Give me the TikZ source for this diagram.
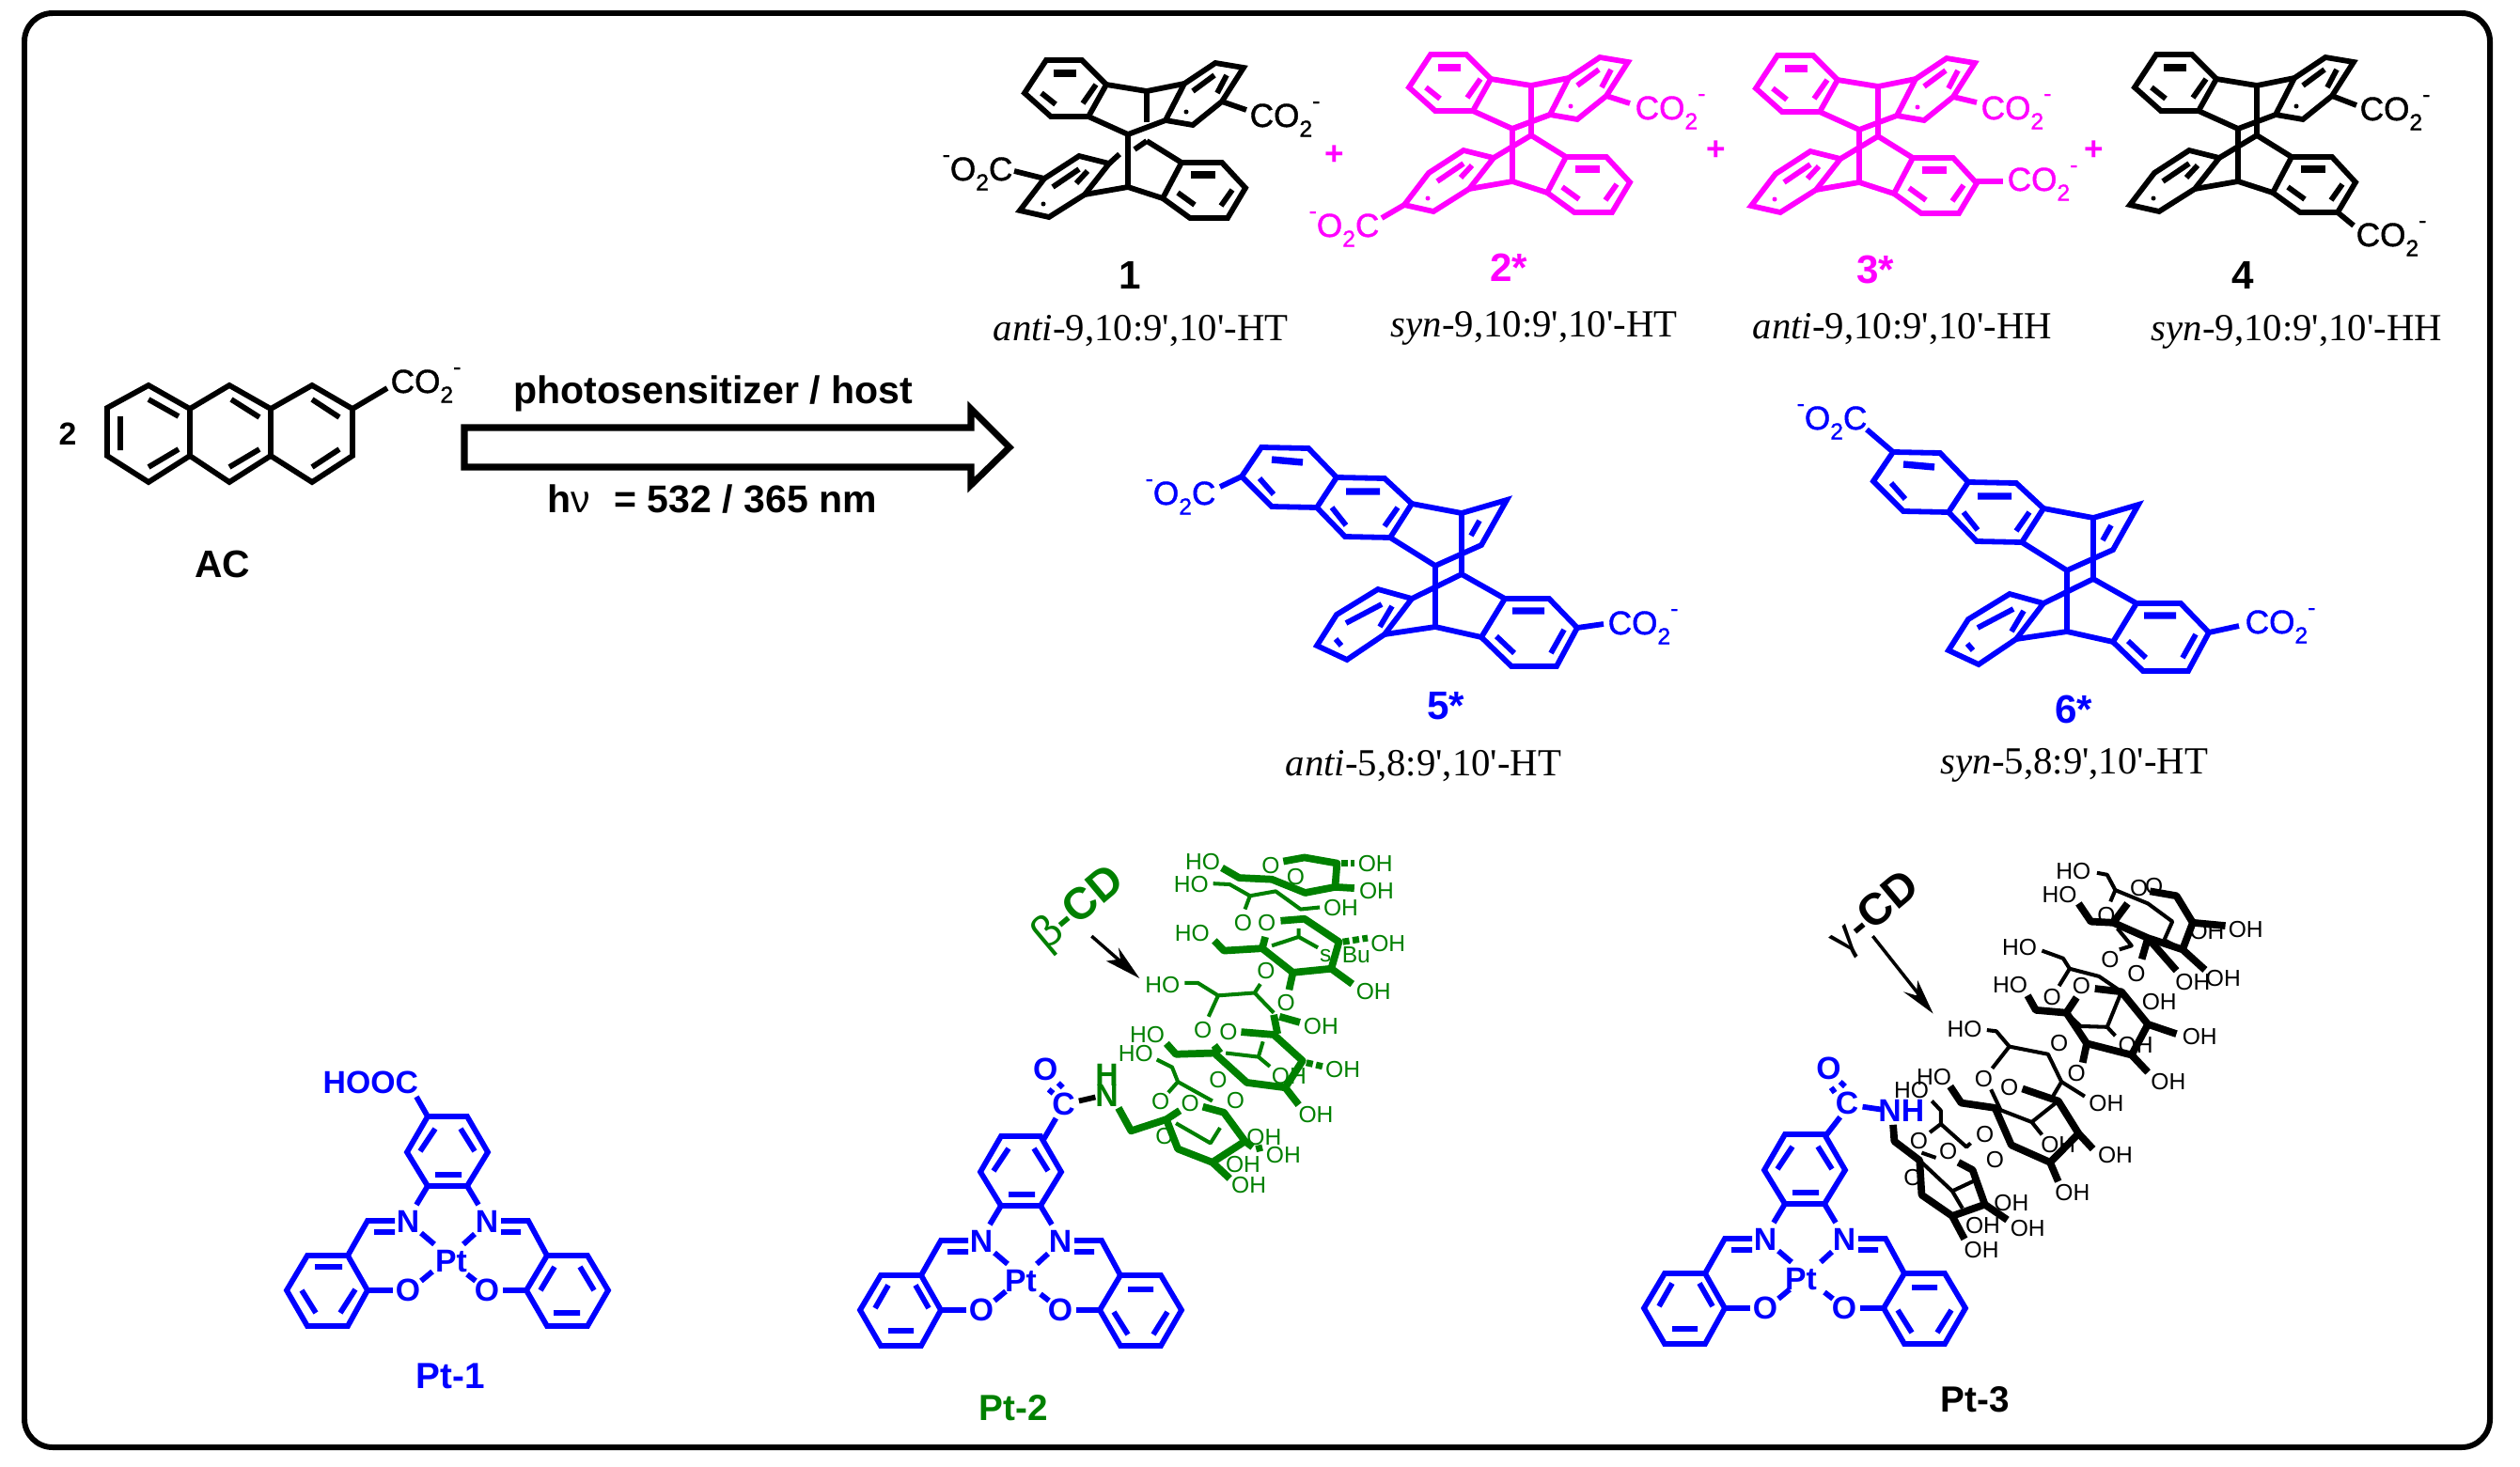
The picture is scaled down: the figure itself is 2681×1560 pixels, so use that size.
\documentclass[tikz,border=0pt]{standalone}
\usepackage{fontspec}
\newfontfamily\arl{Liberation Sans}
\newfontfamily\arm[FakeBold=1.2]{Liberation Sans}
\newfontfamily\tim{Liberation Serif}
\definecolor{mag}{RGB}{255,0,255}
\definecolor{blu}{RGB}{0,0,255}
\definecolor{grn}{RGB}{0,128,0}
\newcommand\mysub[1]{\raisebox{-0.3em}{\fontsize{7}{8}\selectfont #1}}
\newcommand\mysup[1]{\raisebox{0.55em}{\fontsize{7}{8}\selectfont #1}}
\newcommand\cotwo{CO\mysub{2}\mysup{-}}
\newcommand\otwoc{\mysup{-}O\mysub{2}C}
\tikzset{
 bond/.style={line width=1.65pt,line join=miter},
 hbond/.style={line width=2.1pt},
 thinb/.style={line width=1.15pt,line join=round},
 thickb/.style={line width=2.2pt,line join=round},
 hashb/.style={line width=2pt,dash pattern=on 2pt off 1pt},
 chem/.style={inner sep=0pt,font=\arm\fontsize{10}{12}\selectfont,anchor=base west},
 atom/.style={inner sep=0pt,font=\arl\bfseries\fontsize{9.6}{11}\selectfont},
 cdtxt/.style={inner sep=0pt,font=\arl\fontsize{7}{8}\selectfont},
 num/.style={inner sep=0pt,font=\arl\bfseries\fontsize{12}{14}\selectfont},
 big/.style={inner sep=0pt,font=\arl\bfseries\fontsize{11}{13}\selectfont},
 iso/.style={inner sep=0pt,font=\tim\fontsize{11.6}{14}\selectfont,anchor=base west},
 rxn/.style={inner sep=0pt,font=\arl\bfseries\fontsize{11.67}{14}\selectfont,anchor=base west},
 pls/.style={inner sep=0pt,font=\arl\bfseries\fontsize{10}{12}\selectfont,text=mag},
 cdname/.style={inner sep=0pt,font=\arl\bfseries\fontsize{13.5}{15}\selectfont,rotate=40},
}
\newcommand\dimerrings{
 \draw[bond] (-87,-79)--(-49,-79)--(-23,-53)--(-42,-19)--(-82,-19)--(-110,-44)--cycle;
 \draw[bond] (-42,-19)--(0,0)--(40,-15)--(69,-10)--(100,-35)--(123,-71)--(93,-76)--(60,-54)--(40,-15);
 \draw[bond] (-23,-53)--(20,-46)--(60,-54);
 \draw[bond] (57,30)--(100,30)--(125,57)--(106,89)--(66,89)--(37,68)--cycle;
 \draw[bond] (-52,23)--(-20,31)--(-46,64)--(-84,88)--(-115,81)--(-89,47)--cycle;
 \draw[bond] (0,0)--(0,56);
 \draw[bond] (-46,64)--(0,56)--(37,68);
 \draw[bond] (20,7)--(57,30);
 \draw[hbond] (-79,-65)--(-55,-65) (67,43)--(93,43);
 \draw[bond] (-92,-44)--(-77,-32) (-48,-33)--(-34,-53);
 \draw[bond] (69,-46)--(92,-63) (95,-44)--(105,-63);
 \draw[bond] (53,62)--(71,75) (99,76)--(111,59);
 \draw[bond] (-80,56)--(-52,37) (-55,52)--(-43,39);
 \fill (62,-24) circle (2.5) (-90,74) circle (2.5);
}
\newcommand\vinylcore{
 \draw[bond] (-185,-126)--(-135,-125)--(-105,-94)--(-126,-62)--(-174,-63)--(-206,-95)--cycle;
 \draw[bond] (-105,-94)--(-54,-93)--(-25,-66)--(-48,-30)--(-96,-31)--(-126,-62);
 \draw[bond] (-25,-66)--(28,-56)--(76,-70)--(49,-22)--(0,0)--(-48,-30);
 \draw[bond] (28,-56)--(28,9);
 \draw[bond] (0,0)--(0,65);
 \draw[bond] (28,9)--(74,35);
 \draw[bond] (28,9)--(-25,35);
 \draw[bond] (74,35)--(121,35)--(151,66)--(129,107)--(81,107)--(49,76)--cycle;
 \draw[bond] (-61,25)--(-25,35)--(-54,73)--(-94,100)--(-126,85)--(-105,52)--cycle;
 \draw[bond] (-54,73)--(0,65)--(49,76);
 \draw[hbond] (-174,-113)--(-141,-110) (-95,-79)--(-59,-79) (82,48)--(116,48);
 \draw[bond] (-187,-93)--(-172,-76) (-110,-62)--(-95,-43) (-40,-62)--(-54,-42) (47,-48)--(38,-32);
 \draw[bond] (65,75)--(84,93) (137,68)--(123,93) (-95,61)--(-57,41) (-59,65)--(-46,43) (-106,78)--(-100,85);
}
\newcommand\ptcore{
 \draw[bond] (-25,-154)--(17,-154)--(39,-116)--(17,-80)--(-25,-80)--(-47,-116)--cycle;
 \draw[bond] (-17,-92)--(11,-92) (-33,-117)--(-17,-141) (10,-141)--(25,-117);
 \draw[bond] (-25,-80)--(-37,-60) (17,-80)--(29,-60);
 \draw[bond] (-60,-43)--(-89,-43)--(-110,-6) (-82,-31)--(-60,-31);
 \draw[bond] (53,-43)--(82,-43)--(102,-6) (53,-31)--(74,-31);
 \draw[bond] (-110,-6)--(-153,-6)--(-175,31)--(-153,69)--(-110,69)--(-89,31)--cycle;
 \draw[bond] (102,-6)--(145,-6)--(167,31)--(145,69)--(102,69)--(80,31)--cycle;
 \draw[bond] (-89,31)--(-62,31) (55,31)--(80,31);
 \draw[bond] (-32,-30)--(-18,-18) (25,-29)--(13,-18) (-32,21)--(-20,11) (17,14)--(26,21);
}
\newcommand\ptatoms[1]{
 \node[atom] (#1n1) at (-46,-42) {N};
 \node[atom] (#1n2) at (38,-42) {N};
 \node[atom] (#1o1) at (-46,31) {O};
 \node[atom] (#1o2) at (38,31) {O};
}
\begin{document}
\begin{tikzpicture}[x=0.01cm,y=-0.01cm]
\useasboundingbox (0,0) rectangle (2681,1560);
\draw[line width=1.7pt,rounded corners=0.3cm] (26,14) rectangle (2649,1540);

% ---- dimer 1
\begin{scope}[shift={(1200,143)}]
 \dimerrings
 \draw[bond] (20,-46)--(20,-13);
 \draw[bond] (20,7)--(7,16) (-9,21)--(-20,31);
\end{scope}
\coordinate (c1a) at (1300,108); \coordinate (c1b) at (1326,117);
\draw[bond] (c1a)--(c1b);
\coordinate (c1c) at (1111,190); \coordinate (c1d) at (1079,182);
\draw[bond] (c1c)--(c1d);
\node[chem] (m1r) at (1329,135) {\cotwo};
\node[chem] (m1l) at (1002,192) {\otwoc};
\node[num] (m1) at (1202,293) {1};
\node[iso] (n1) at (1056,362) {\itshape anti\upshape-9,10:9',10'-HT};

% ---- dimer 2
\begin{scope}[shift={(1609,137)},color=mag]
 \dimerrings
 \draw[bond] (20,-46)--(20,7)  (0,0)--(40,-15) (20,7)--(-20,31);
\end{scope}
\coordinate (c2a) at (1709,102); \coordinate (c2b) at (1734,110);
\draw[bond,mag] (c2a)--(c2b);
\coordinate (c2c) at (1494,218); \coordinate (c2d) at (1470,232);
\draw[bond,mag] (c2c)--(c2d);
\node[chem,text=mag] (m2r) at (1739,127) {\cotwo};
\node[chem,text=mag] (m2l) at (1392,252) {\otwoc};
\node[num,text=mag] (m2) at (1605,285) {2*};
\node[iso] (n2) at (1479,358) {\itshape syn\upshape-9,10:9',10'-HT};

% ---- dimer 3
\begin{scope}[shift={(1978,138)},color=mag]
 \dimerrings
 \draw[bond] (20,-46)--(20,7) (20,7)--(-20,31);
\end{scope}
\coordinate (c3a) at (2078,103); \coordinate (c3b) at (2103,109);
\draw[bond,mag] (c3a)--(c3b);
\coordinate (c3c) at (2103,193); \coordinate (c3d) at (2131,193);
\draw[bond,mag] (c3c)--(c3d);
\node[chem,text=mag] (m3r) at (2107,127) {\cotwo};
\node[chem,text=mag] (m3l) at (2135,203) {\cotwo};
\node[num,text=mag] (m3) at (1995,287) {3*};
\node[iso] (n3) at (1864,360) {\itshape anti\upshape-9,10:9',10'-HH};

% ---- dimer 4
\begin{scope}[shift={(2381,137)}]
 \dimerrings
 \draw[bond] (20,-46)--(20,7) (20,7)--(-20,31);
\end{scope}
\coordinate (c4a) at (2481,102); \coordinate (c4b) at (2507,112);
\draw[bond] (c4a)--(c4b);
\coordinate (c4c) at (2487,226); \coordinate (c4d) at (2504,240);
\draw[bond] (c4c)--(c4d);
\node[chem] (m4r) at (2510,128) {\cotwo};
\node[chem] (m4l) at (2506,262) {\cotwo};
\node[num] (m4) at (2386,293) {4};
\node[iso] (n4) at (2288,362) {\itshape syn\upshape-9,10:9',10'-HH};

% ---- plus signs
\node[pls] (p1) at (1420,165) {+};
\node[pls] (p2) at (1826,160) {+};
\node[pls] (p3) at (2228,160) {+};

% ---- AC
\draw[bond] (114,434)--(158,410)--(202,435)--(244,410)--(288,435)--(332,410)--(375,435)--(375,485)--(332,513)--(288,485)--(244,513)--(202,485)--(158,513)--(114,485)--cycle;
\draw[bond] (202,435)--(202,485) (288,435)--(288,485);
\draw[bond] (128,443)--(128,479) (158,425)--(190,443) (158,497)--(190,478) (246,425)--(276,444) (244,497)--(276,478) (332,425)--(361,444) (332,497)--(361,478);
\coordinate (aca) at (375,435); \coordinate (acb) at (412,413);
\draw[bond] (aca)--(acb);
\node[chem] (acco) at (415,418) {\cotwo};
\node[atom,font=\arl\bfseries\fontsize{9.6}{11}\selectfont] (two) at (72,462) {2};
\node[atom,font=\arl\bfseries\fontsize{11.6}{14}\selectfont] (ac) at (237,600) {AC};

% ---- reaction arrow
\draw[line width=2pt,miter limit=10,fill=white] (494,455)--(1033,455)--(1033,435)--(1074,476)--(1033,516)--(1033,497)--(494,497)--cycle;
\node[rxn] (rt) at (546,429) {photosensitizer / host};
\node[rxn] (rb) at (582,545) {h{\mdseries ν}\,\, = 532 / 365 nm};

% ---- dimer 5
\begin{scope}[shift={(1527,602)},color=blu]
 \vinylcore
\end{scope}
\coordinate (c5a) at (1321,507); \coordinate (c5b) at (1298,518);
\draw[bond,blu] (c5a)--(c5b);
\coordinate (c5c) at (1678,668); \coordinate (c5d) at (1706,664);
\draw[bond,blu] (c5c)--(c5d);
\node[chem,text=blu] (m5l) at (1218,537) {\otwoc};
\node[chem,text=blu] (m5r) at (1710,675) {\cotwo};
\node[num,text=blu] (m5) at (1538,751) {5*};
\node[iso] (n5) at (1367,825) {\itshape anti\upshape-5,8:9',10'-HT};

% ---- dimer 6
\begin{scope}[shift={(2199,607)},color=blu]
 \vinylcore
\end{scope}
\coordinate (c6a) at (2014,481); \coordinate (c6b) at (1986,457);
\draw[bond,blu] (c6a)--(c6b);
\coordinate (c6c) at (2350,673); \coordinate (c6d) at (2382,666);
\draw[bond,blu] (c6c)--(c6d);
\node[chem,text=blu] (m6l) at (1911,457) {\otwoc};
\node[chem,text=blu] (m6r) at (2388,674) {\cotwo};
\node[num,text=blu] (m6) at (2206,755) {6*};
\node[iso] (n6) at (2064,823) {\itshape syn\upshape-5,8:9',10'-HT};

% ---- Pt-1
\begin{scope}[shift={(480,1342)},color=blu]
 \ptcore
 \ptatoms{a}
 \draw[bond] (-145,6)--(-116,6) (-159,31)--(-144,55) (-118,55)--(-102,30);
 \draw[bond] (95,31)--(110,6) (137,6)--(152,31) (109,55)--(137,55);
 \draw[bond] (-25,-154)--(-37,-175);
\end{scope}
\node[atom,text=blu,anchor=base west] (hooc) at (343,1163) {HOOC};
\node[atom,text=blu] (pta) at (480,1342) {Pt};
\node[big,text=blu] (l1) at (479,1464) {Pt-1};

% ---- Pt-2
\begin{scope}[shift={(1090,1363)},color=blu]
 \ptcore
 \ptatoms{b}
 \draw[bond] (-159,29)--(-145,4.5) (-116,4.5)--(-102,29) (-145,53)--(-118,53);
 \draw[bond] (110,9)--(137,9) (95,33)--(110,57) (137,57)--(152,33);
\end{scope}
\node[atom,text=blu] (ptb) at (1086,1363) {Pt};
\node[big,text=grn] (l2) at (1078,1498) {Pt-2};
\begin{scope}[shift={(890,890)},scale=0.408]
 \draw[bond,blu] (540,790)--(572,735) (553,660)--(565,670) (578,643)--(590,655);
 \draw[bond] (632,690)--(675,680);
 \node[atom,text=blu] (bc) at (592,697) {C};
 \node[atom,text=blu] (bo) at (545,608) {O};
 \node[atom,text=grn] (bn) at (705,675) {N};
 \node[atom,text=grn] (bh) at (705,622) {H};
 \begin{scope}[color=grn]
 % ring 1
 \draw[thickb] (1005,82)--(1050,108)--(1135,112)--(1222,147)--(1300,132)--(1350,135);
 \draw[thickb] (1300,132)--(1305,70)--(1220,55)--(1165,65);
 \draw[hashb] (1315,70)--(1350,70);
 \draw[thinb] (982,123)--(1025,125)--(1078,155)--(1145,143)--(1210,190)--(1260,185);
 \draw[thinb] (1078,155)--(1065,190);
 % ring 2
 \draw[thickb] (985,272)--(1010,298)--(1110,292)--(1190,355)--(1290,345)--(1345,385);
 \draw[thickb] (1190,355)--(1180,400) (1290,345)--(1310,275)--(1220,215)--(1158,220) (1110,292)--(1118,262);
 \draw[thinb] (1135,285)--(1205,262)--(1255,290) (1205,262)--(1205,240);
 \draw[hashb] (1320,275)--(1385,265);
 % ring 3
 \draw[thinb] (908,382)--(942,382)--(995,415)--(1090,408)--(1140,460) (995,415)--(970,470) (1090,408)--(1105,385);
 \draw[thickb] (1140,465)--(1150,515) (1155,470)--(1208,485);
 \draw[thickb] (1055,510)--(1140,517)--(1215,585)--(1170,655)--(1205,700);
 \draw[thickb] (1170,655)--(1070,642)--(985,565)--(885,568)--(860,540) (985,545)--(1000,565);
 \draw[hashb] (1225,590)--(1268,600);
 \draw[thinb] (1015,565)--(1100,575)--(1130,600) (1100,575)--(1112,535);
 % ring 4
 \draw[thinb] (835,582)--(875,602)--(890,640)--(980,690) (890,640)--(865,668);
 \draw[thickb] (735,708)--(768,768)--(860,738)--(895,715);
 \draw[thickb] (860,738)--(890,815)--(980,850)--(1065,795)--(1010,720)--(955,705);
 \draw[thickb] (980,850)--(1025,892) (1065,795)--(1085,810);
 \draw[thinb] (885,748)--(975,800)--(1000,760);
 \draw[hashb] (1100,805)--(1105,825);
 \end{scope}
 \foreach \p/\q/\t [count=\i] in {955/67/HO,925/125/HO,1132/75/O,1197/105/O,1405/70/OH,1408/143/OH,1315/187/OH,
   1060/225/O,1122/225/O,927/252/HO,1438/280/OH,1400/405/OH,1275/312/s,1355/310/Bu,1120/350/O,1172/435/O,
   850/388/HO,955/505/O,1022/510/O,1263/495/OH,1320/608/OH,1250/725/OH,1180/625/OH,
   810/518/HO,780/567/HO,995/635/O,845/690/O,922/695/O,1040/688/O,1115/785/OH,1165/832/OH,1060/855/OH,1075/910/OH,855/783/O}
  {\node[cdtxt,text=grn] (g\i) at (\p,\q) {\t};}
 \coordinate (ba) at (665,260); \coordinate (bb) at (770,352);
 \draw[line width=1pt] (ba)--(bb);
 \fill (790,370)--(735,290)--(740,320)--(703,325)--cycle;
 \node[cdname,text=grn] (bcd) at (633,190) {{\mdseries β}-CD};
\end{scope}

% ---- Pt-3
\begin{scope}[shift={(1924,1361)},color=blu]
 \ptcore
 \ptatoms{c}
 \draw[bond] (-159,29)--(-145,4.5) (-116,4.5)--(-102,29) (-145,53)--(-118,53);
 \draw[bond] (110,9)--(137,9) (95,33)--(110,57) (137,57)--(152,33);
\end{scope}
\node[atom,text=blu] (ptc) at (1916,1361) {Pt};
\node[big] (l3) at (2101,1489) {Pt-3};
\begin{scope}[shift={(1730,890)},xscale=0.4337,yscale=0.408]
 \draw[bond,blu] (490,780)--(525,732) (503,655)--(512,668) (525,640)--(537,652) (580,705)--(625,712);
 \node[atom,text=blu] (cc) at (542,695) {C};
 \node[atom,text=blu] (co) at (497,605) {O};
 \node[atom,text=blu] (cn) at (675,715) {NH};
 % ring 1
 \draw[thinb] (1155,95)--(1180,100)--(1200,140)--(1280,175)--(1340,222)--(1320,270) (1200,140)--(1188,170);
 \draw[thickb] (1110,175)--(1140,222)--(1195,225)--(1280,265)--(1365,295)--(1420,348);
 \draw[thickb] (1365,295)--(1390,225)--(1350,155)--(1285,143) (1390,225)--(1470,233) (1280,265)--(1265,320) (1195,225)--(1230,175);
 \draw[thinb] (1205,240)--(1240,285)--(1210,295) (1320,270)--(1365,295);
 \draw[thickb] (1280,265)--(1350,350);
 % ring 2
 \draw[thinb] (1020,298)--(1072,318)--(1088,345)--(1160,365)--(1215,405)--(1180,497)--(1200,520) (1088,345)--(1062,390);
 \draw[thickb] (985,415)--(1005,453)--(1080,460)--(1130,540)--(1240,570)--(1280,615) (1130,540)--(1120,590);
 \draw[thickb] (1240,570)--(1280,490)--(1350,515) (1280,490)--(1215,405)--(1150,397) (1080,460)--(1105,420);
 \draw[thinb] (1080,460)--(1115,495)--(1180,497);
 % ring 3
 \draw[thinb] (885,505)--(908,508)--(940,548)--(1035,568)--(1068,640)--(1125,678) (940,548)--(898,605);
 \draw[thickb] (795,652)--(822,695)--(905,708)--(945,805)--(1040,850)--(1110,775)--(1060,690)--(972,658);
 \draw[thickb] (1040,850)--(1060,900) (1110,775)--(1145,815);
 \draw[thinb] (905,708)--(995,745)--(1060,690) (995,745)--(1020,778) (1068,640)--(1040,690) (895,660)--(918,712);
 % ring 4
 \draw[thinb] (750,690)--(772,715)--(772,750)--(835,810)--(845,800) (772,750)--(745,772);
 \draw[thickb] (655,752)--(658,795)--(720,845)--(725,935)--(800,990)--(880,960)--(850,870)--(815,850);
 \draw[thickb] (800,990)--(830,1050) (880,960)--(935,1000);
 \draw[thinb] (720,845)--(800,925)--(860,895) (800,925)--(825,970) (725,825)--(760,838);
 \foreach \p/\q/\t [count=\i] in {1097/90/HO,1063/152/HO,1258/135/O,1295/130/O,1178/205/O,1520/242/OH,1425/248/OH,1390/380/OH,1465/370/OH,1187/322/O,1252/358/O,
   965/290/HO,942/387/HO,1045/420/O,1117/390/O,1308/432/OH,1407/522/OH,1330/640/OH,1250/545/OH,830/503/HO,1062/540/O,1105/618/O,877/632/O,940/655/O,
   755/628/HO,700/663/HO,1178/695/OH,1200/830/OH,1095/930/OH,1060/805/OH,880/778/O,718/795/O,790/822/O,905/842/O,703/890/O,945/957/OH,985/1022/OH,875/1015/OH,872/1078/OH}
  {\node[cdtxt] (k\i) at (\p,\q) {\t};}
 \coordinate (ga) at (605,260); \coordinate (gb) at (735,435);
 \draw[line width=1pt] (ga)--(gb);
 \fill (753,462)--(715,375)--(712,415)--(680,405)--cycle;
 \node[cdname] (gcd) at (613,205) {{\mdseries γ}-CD};
\end{scope}
\end{tikzpicture}
\end{document}
